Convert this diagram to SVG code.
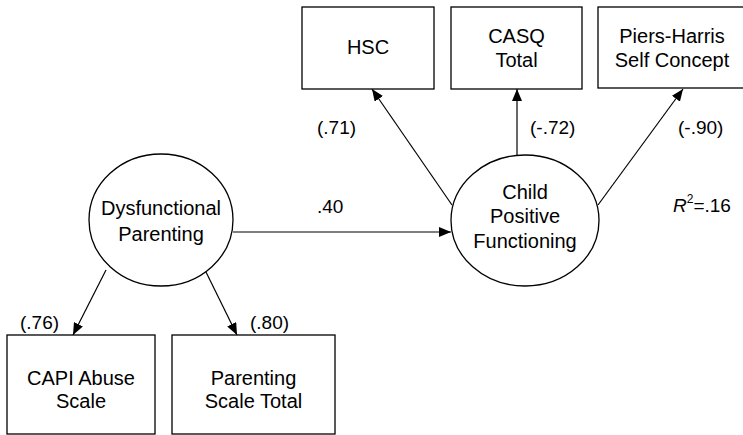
<svg xmlns="http://www.w3.org/2000/svg" width="743" height="435" viewBox="0 0 743 435">
<defs>
<style>
.box{fill:#fff;stroke:#000;stroke-width:1.3}
.ell{fill:#fff;stroke:#000;stroke-width:1.3}
.t{font-family:"Liberation Sans",Arial,sans-serif;font-size:20px;fill:#000;text-anchor:middle}
.lbl{font-family:"Liberation Sans",Arial,sans-serif;font-size:19px;fill:#000}
.edge{stroke:#000;stroke-width:1.2;fill:none;marker-end:url(#ah)}
</style>
<marker id="ah" markerUnits="userSpaceOnUse" markerWidth="12" markerHeight="10" refX="12" refY="5" orient="auto">
<path d="M0,0 L12,5 L0,10 z" fill="#000"/>
</marker>
</defs>
<g id="connectors">
<line class="edge" x1="233" y1="232" x2="451" y2="232"/>
<line class="edge" x1="452" y1="205" x2="372" y2="89"/>
<line class="edge" x1="517" y1="155" x2="517" y2="89"/>
<line class="edge" x1="598" y1="205" x2="683" y2="89"/>
<line class="edge" x1="106" y1="270" x2="73" y2="335"/>
<line class="edge" x1="205" y1="270" x2="237" y2="335"/>
</g>
<g id="labels">
<text class="lbl" x="317" y="213">.40</text>
<text class="lbl" x="317" y="134">(.71)</text>
<text class="lbl" x="530" y="134">(-.72)</text>
<text class="lbl" x="678" y="134">(-.90)</text>
<text class="lbl" x="20" y="329">(.76)</text>
<text class="lbl" x="250" y="329">(.80)</text>
<text class="lbl" x="673" y="212"><tspan font-style="italic">R</tspan><tspan font-size="12" dy="-9">2</tspan><tspan dy="9">=.16</tspan></text>
</g>
<g id="dysfunctional-parenting">
<ellipse class="ell" cx="161" cy="220" rx="72" ry="66"/>
<text class="t" x="161" y="215">Dysfunctional</text>
<text class="t" x="161" y="241">Parenting</text>
</g>
<g id="child-positive-functioning">
<ellipse class="ell" cx="525" cy="220.5" rx="74" ry="65.5"/>
<text class="t" x="525" y="199">Child</text>
<text class="t" x="525" y="223">Positive</text>
<text class="t" x="525" y="248">Functioning</text>
</g>
<g id="hsc">
<rect class="box" x="302" y="7" width="132" height="82"/>
<text class="t" x="368" y="54">HSC</text>
</g>
<g id="casq">
<rect class="box" x="451" y="7" width="131" height="82"/>
<text class="t" x="516.5" y="43">CASQ</text>
<text class="t" x="516.5" y="67">Total</text>
</g>
<g id="piers-harris">
<rect class="box" x="598" y="7" width="149" height="81"/>
<text class="t" x="672" y="43">Piers-Harris</text>
<text class="t" x="672" y="67">Self Concept</text>
</g>
<g id="capi">
<rect class="box" x="7" y="335" width="148" height="99"/>
<text class="t" x="81" y="385">CAPI Abuse</text>
<text class="t" x="81" y="408">Scale</text>
</g>
<g id="parenting-scale">
<rect class="box" x="172" y="335" width="163" height="99"/>
<text class="t" x="253.5" y="385">Parenting</text>
<text class="t" x="253.5" y="408">Scale Total</text>
</g>
</svg>
